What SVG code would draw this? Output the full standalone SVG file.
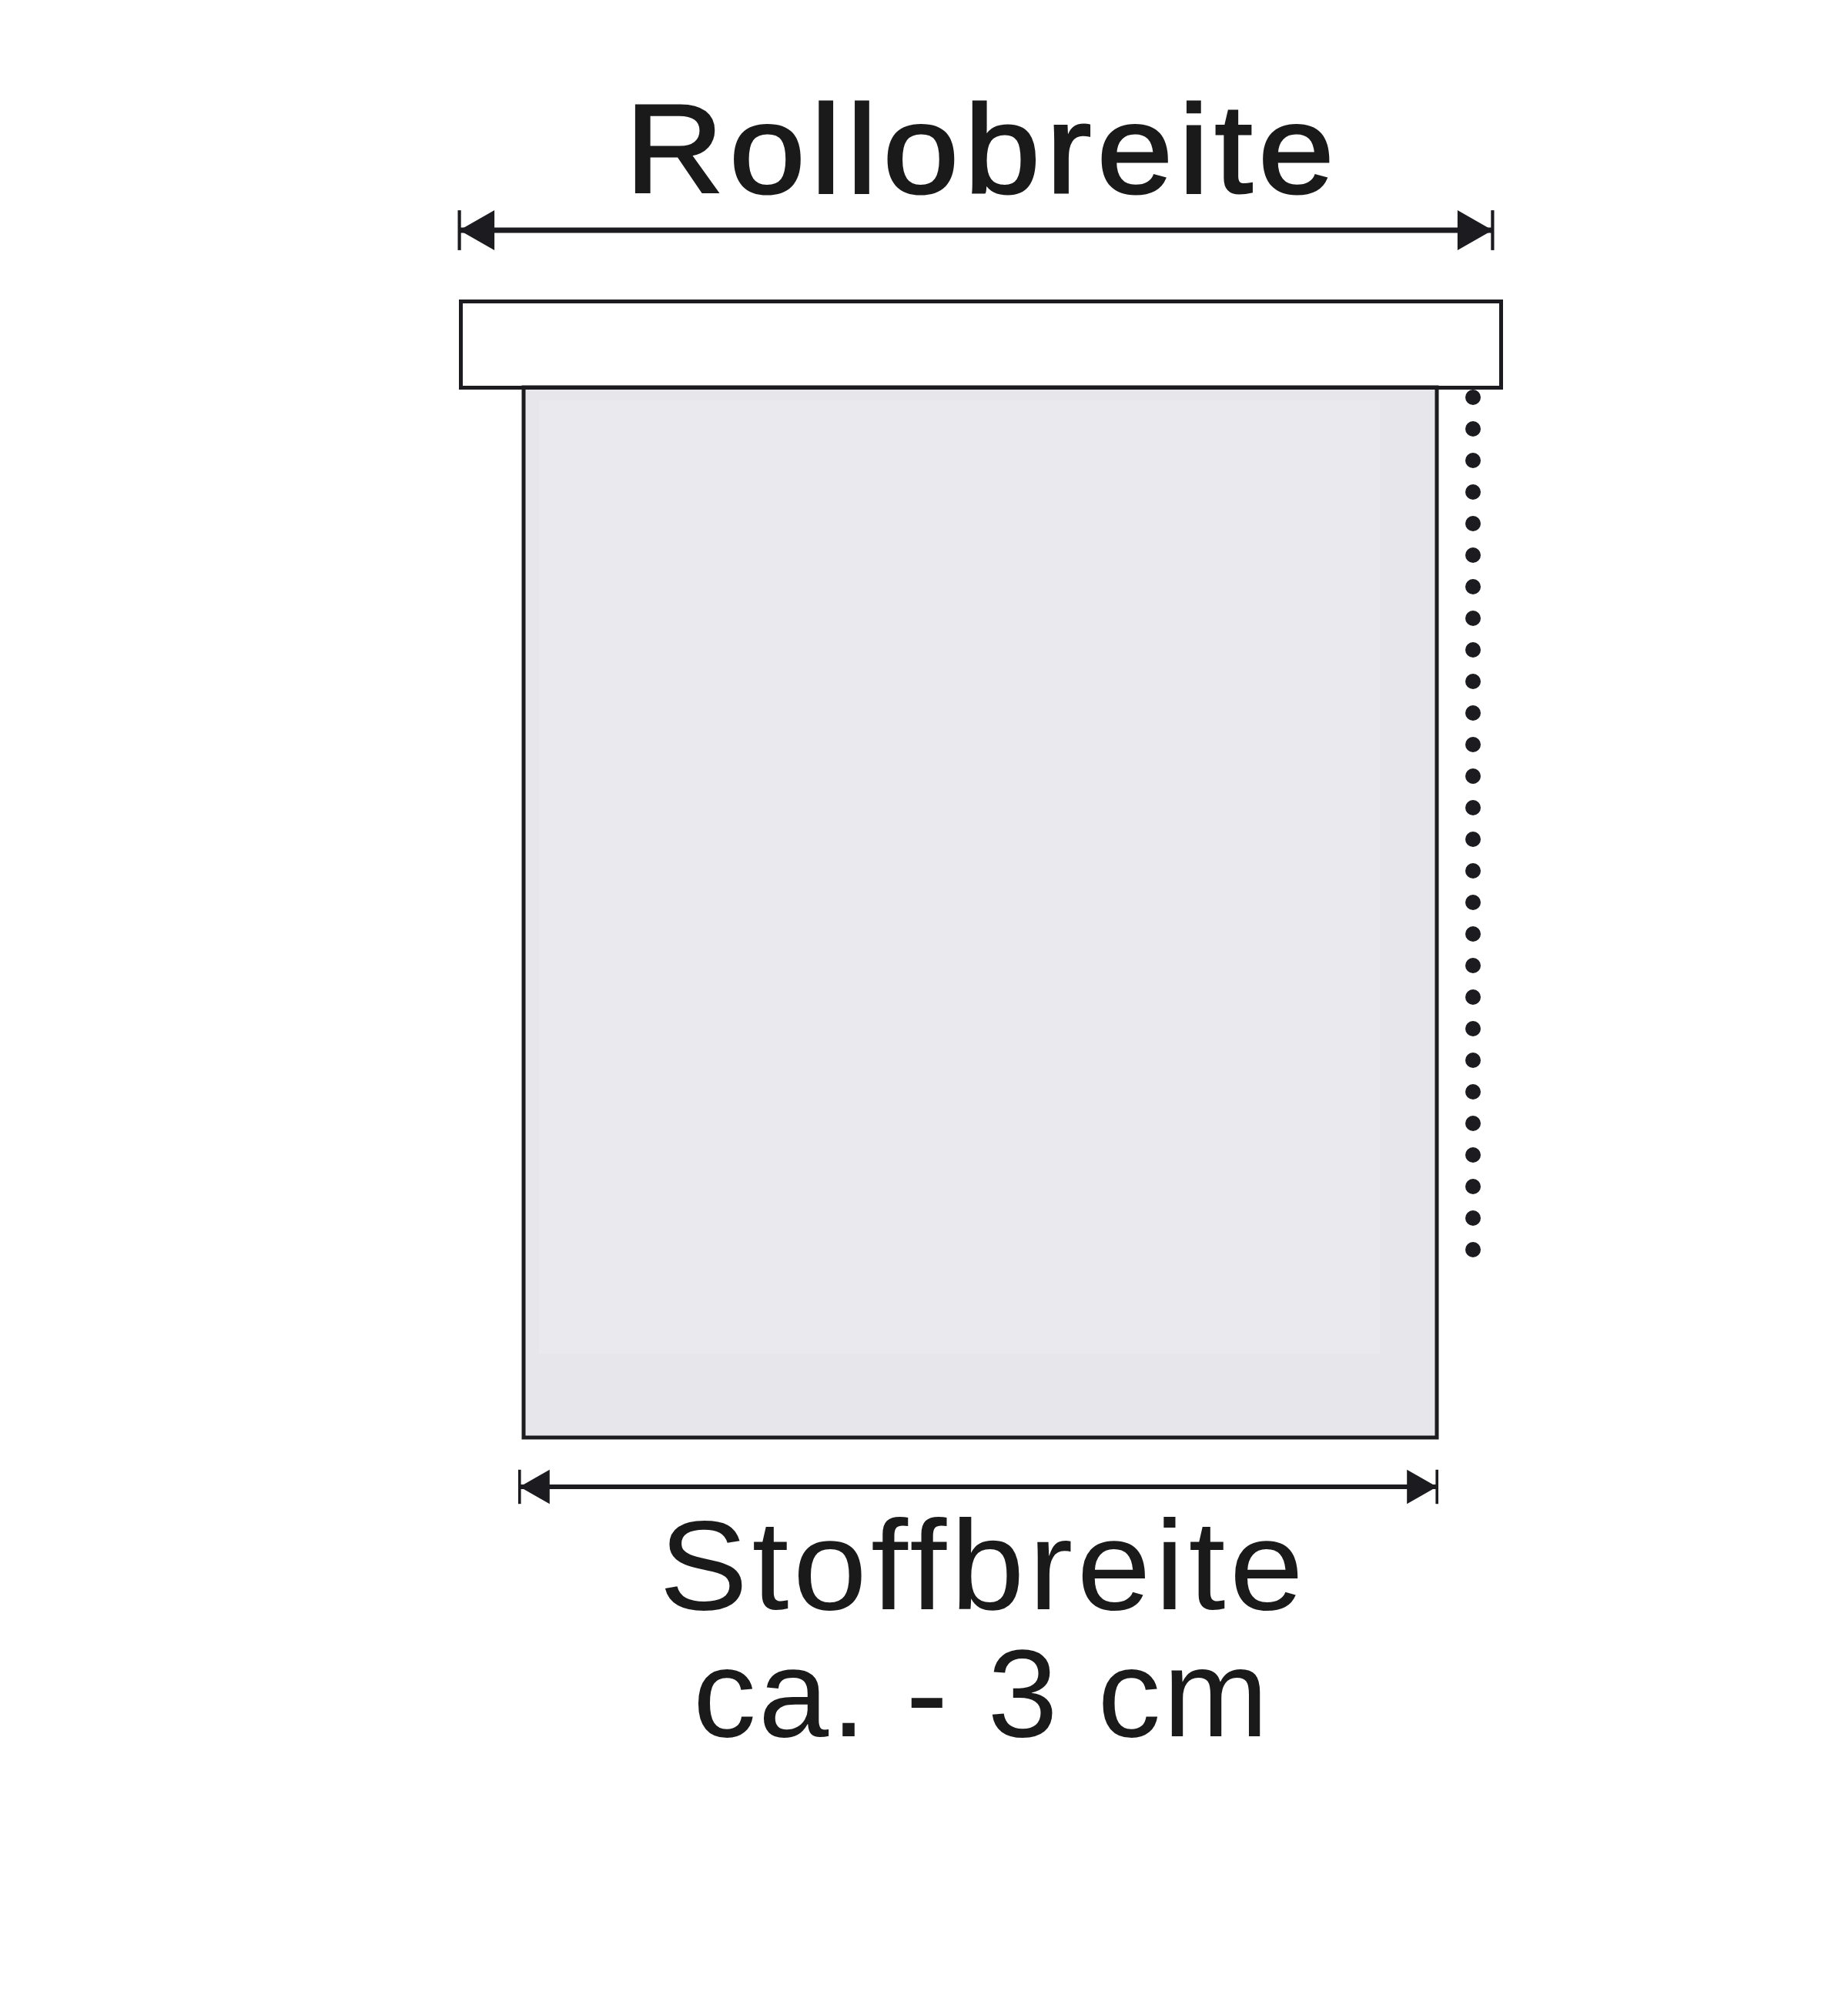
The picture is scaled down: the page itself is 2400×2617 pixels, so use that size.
<svg xmlns="http://www.w3.org/2000/svg" width="2400" height="2617" viewBox="0 0 2400 2617">
  <style>
    .outline { fill: none; stroke: #1c1b20; stroke-width: 5; }
    .dim { fill: none; stroke: #1c1b20; }
    .label { font-family: "Liberation Sans", Arial, Helvetica, sans-serif; fill: #1a1a1a; }
    .chain circle { fill: #1c1b20; }
  </style>
  <defs>
    <marker id="dimEnd" viewBox="-7 -4.5 8 9" refX="0" refY="0" markerWidth="8" markerHeight="9" markerUnits="strokeWidth" orient="auto-start-reverse" overflow="visible">
      <path d="M0.2,0 L-6.3,-3.7 L-6.3,3.7 Z" fill="#1c1b20"/>
      <rect x="-0.1" y="-3.7" width="0.6" height="7.4" fill="#1c1b20"/>
    </marker>
  </defs>
  <rect width="2400" height="2617" fill="#ffffff"/>

  <g id="fabric">
    <rect x="680" y="503" width="1186" height="1364" fill="#e7e6ea"/>
    <rect x="700" y="520" width="1092" height="1238" fill="#eae9ed"/>
    <rect x="680" y="503" width="1186" height="1364" class="outline"/>
  </g>

  <g id="headrail">
    <rect x="598.5" y="391.5" width="1351" height="112" fill="#ffffff" class="outline"/>
  </g>

  <g id="chain" class="chain">
    <circle cx="1913" cy="516" r="10"/><circle cx="1913" cy="557" r="10"/><circle cx="1913" cy="598" r="10"/><circle cx="1913" cy="639" r="10"/>
    <circle cx="1913" cy="680" r="10"/><circle cx="1913" cy="721" r="10"/><circle cx="1913" cy="762" r="10"/><circle cx="1913" cy="803" r="10"/>
    <circle cx="1913" cy="844" r="10"/><circle cx="1913" cy="885" r="10"/><circle cx="1913" cy="926" r="10"/><circle cx="1913" cy="967" r="10"/>
    <circle cx="1913" cy="1008" r="10"/><circle cx="1913" cy="1049" r="10"/><circle cx="1913" cy="1090" r="10"/><circle cx="1913" cy="1131" r="10"/>
    <circle cx="1913" cy="1172" r="10"/><circle cx="1913" cy="1213" r="10"/><circle cx="1913" cy="1254" r="10"/><circle cx="1913" cy="1295" r="10"/>
    <circle cx="1913" cy="1336" r="10"/><circle cx="1913" cy="1377" r="10"/><circle cx="1913" cy="1418" r="10"/><circle cx="1913" cy="1459" r="10"/>
    <circle cx="1913" cy="1500" r="10"/><circle cx="1913" cy="1541" r="10"/><circle cx="1913" cy="1582" r="10"/><circle cx="1913" cy="1623" r="10"/>
  </g>

  <g id="connectors">
    <path d="M598,299 H1937" class="dim" stroke-width="7" marker-start="url(#dimEnd)" marker-end="url(#dimEnd)"/>
    <path d="M676,1931 H1865" class="dim" stroke-width="6" marker-start="url(#dimEnd)" marker-end="url(#dimEnd)"/>
  </g>

  <g id="label-rollobreite">
    <text x="812" y="250" class="label" font-size="164" letter-spacing="7" stroke="#1a1a1a" stroke-width="3" textLength="928" lengthAdjust="spacingAndGlyphs">Rollobreite</text>
  </g>
  <g id="label-stoffbreite">
    <text x="856" y="2090" class="label" font-size="166" letter-spacing="5" textLength="842" lengthAdjust="spacingAndGlyphs">Stoffbreite</text>
    <text x="900" y="2255" class="label" font-size="162" letter-spacing="3" textLength="750" lengthAdjust="spacingAndGlyphs">ca. - 3 cm</text>
  </g>
</svg>
